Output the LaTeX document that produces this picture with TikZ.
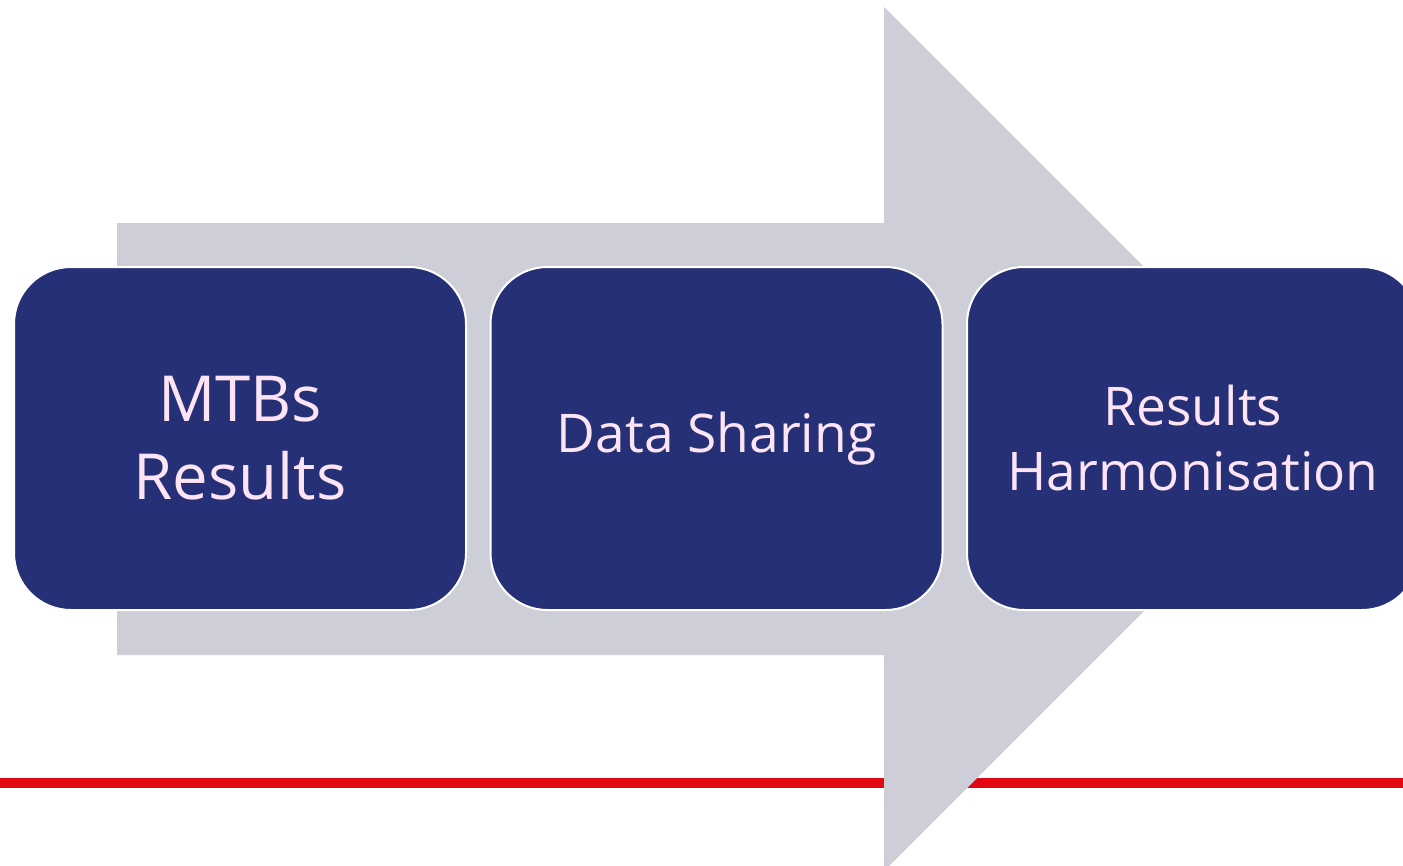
\documentclass[tikz,border=0pt]{standalone}
\usepackage{fontspec}
\setmainfont{Open Sans}
\definecolor{navy}{HTML}{263077}
\definecolor{arrowgray}{HTML}{CDCED8}
\definecolor{txtpink}{HTML}{FCE4F4}
\definecolor{redline}{HTML}{E30613}
\tikzset{
  stepbox/.style={rectangle, rounded corners=57pt, fill=navy, draw=white, line width=2pt,
    minimum width=452pt, minimum height=343pt, text=txtpink, align=center, inner sep=0pt},
}
\begin{document}
\begin{tikzpicture}[x=1pt,y=-1pt]
\useasboundingbox (0,0) rectangle (1403,865);
\clip (0,0) rectangle (1403,865);
\fill[white] (0,0) rectangle (1403,865);
\coordinate (rl) at (0,783);
\coordinate (rr) at (1403,783);
\draw[redline, line width=10pt] (rl) -- (rr);
\fill[arrowgray] (117,223) -- (884,223) -- (884,7) -- (1316,439) -- (884,871) -- (884,655) -- (117,655) -- cycle;
\node[stepbox, font=\fontsize{63.5pt}{78pt}\selectfont] (b1) at (240,438.5) {MTBs\\Results};
\node[stepbox, font=\fontsize{53.3pt}{65pt}\selectfont] (b2) at (716.5,438.5) {Data Sharing};
\node[stepbox, font=\fontsize{53.3pt}{65pt}\selectfont] (b3) at (1193,438.5) {Results\\Harmonisation};
\end{tikzpicture}
\end{document}
